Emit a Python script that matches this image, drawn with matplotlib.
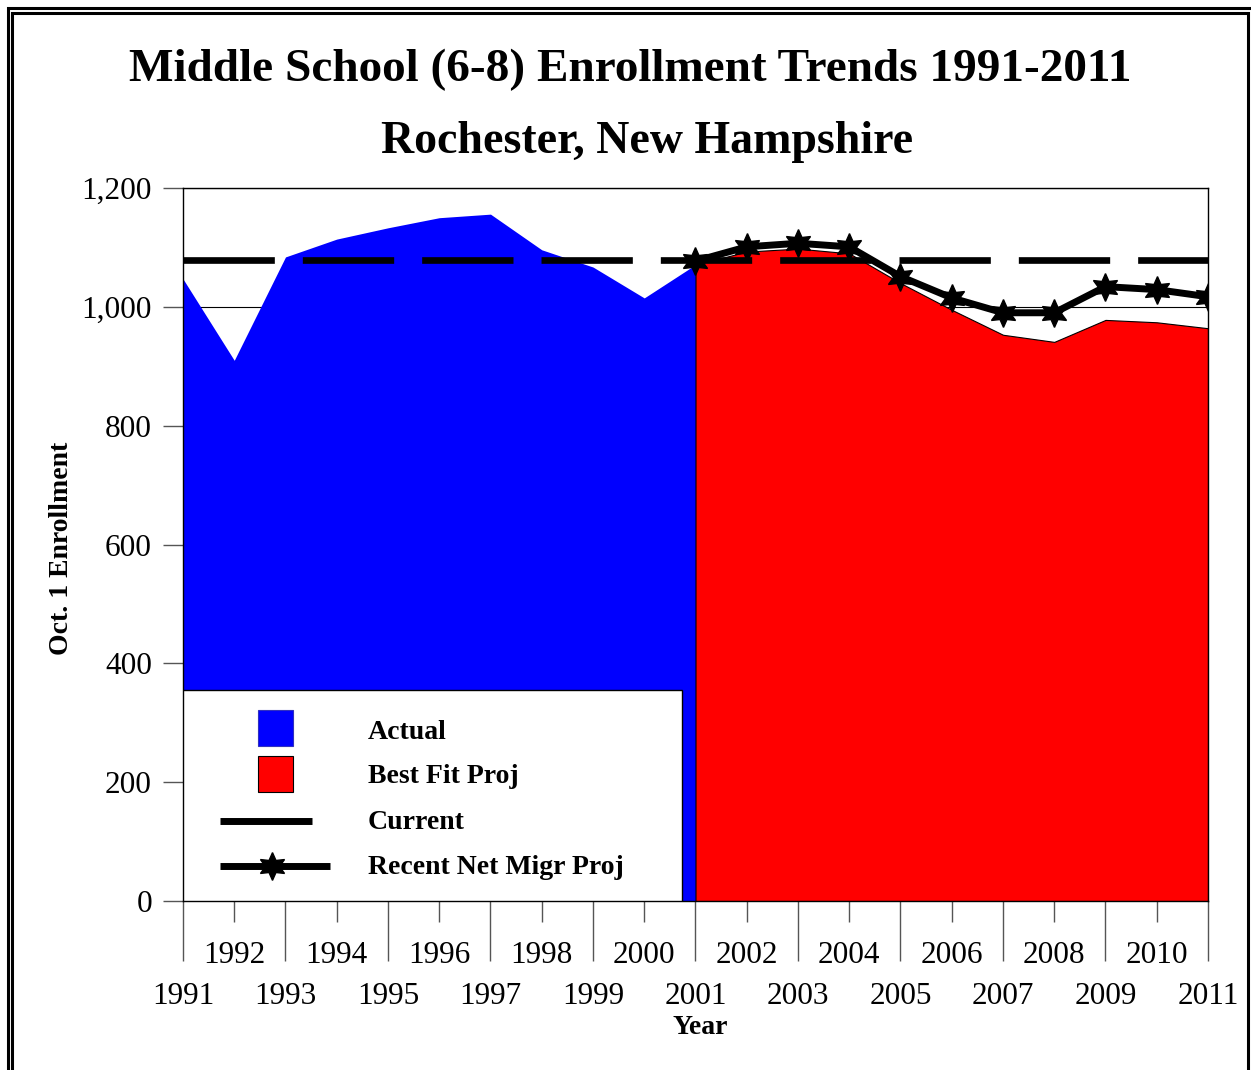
import numpy as np
import matplotlib
matplotlib.use('Agg')
import matplotlib.pyplot as plt
from matplotlib.patches import Rectangle
from matplotlib.lines import Line2D

# ==========================================
# 0. 数据
# ==========================================
years_actual = [1991, 1992, 1993, 1994, 1995, 1996, 1997, 1998, 1999, 2000, 2001]
actual = [1047, 910, 1084, 1114, 1133, 1150, 1156, 1096, 1067, 1015, 1071]

years_proj = [2001, 2002, 2003, 2004, 2005, 2006, 2007, 2008, 2009, 2010, 2011]
best_fit = [1071, 1093, 1098, 1090, 1040, 995, 953, 941, 978, 974, 964]
net_migr = [1077, 1101, 1107, 1101, 1051, 1015, 990, 990, 1034, 1029, 1017]

current = 1078

y_ticks = [0, 200, 400, 600, 800, 1000, 1200]
y_labels = ['0', '200', '400', '600', '800', '1,000', '1,200']
odd_years = list(range(1991, 2012, 2))
even_years = list(range(1992, 2011, 2))

legend_labels = ['Actual', 'Best Fit Proj', 'Current', 'Recent Net Migr Proj']

SERIF = 'Liberation Serif'
plt.rcParams['font.family'] = SERIF

# ==========================================
# 1. 画布
# ==========================================
fig = plt.figure(figsize=(12.51, 10.70), dpi=100)
ax = fig.add_axes([183 / 1251, 1 - 901 / 1070, 1025 / 1251, 713 / 1070])

# 横向网格线 (被填充遮住)
for yv in y_ticks:
    ax.axhline(yv, color='black', lw=0.8, zorder=0)

ax.fill_between(years_actual, actual, 0, color='#0000FF', lw=0, zorder=1)
ax.fill_between(years_proj, best_fit, 0, facecolor='#FF0000', edgecolor='black', lw=0.8, zorder=2)

ax.axhline(current, color='black', lw=4.8, dashes=(13.7, 4.2), solid_capstyle='butt',
           dash_capstyle='butt', zorder=3)
ax.plot(years_proj, net_migr, color='black', lw=5, marker=(6, 1, 0), markersize=20,
        markerfacecolor='black', markeredgecolor='black', zorder=4)

ax.set_xlim(1991, 2011)
ax.set_ylim(0, 1200)

for s in ax.spines.values():
    s.set_color('black')
    s.set_linewidth(1)

ax.set_yticks(y_ticks)
ax.set_yticklabels(y_labels)
ax.tick_params(axis='y', length=14.4, width=1, color='#555555', pad=8, labelsize=22.5)

ax.set_xticks(odd_years)
ax.set_xticklabels([str(y) for y in odd_years])
ax.set_xticks(even_years, minor=True)
ax.set_xticklabels([str(y) for y in even_years], minor=True)
ax.tick_params(axis='x', which='major', length=43.2, width=1, color='#555555', pad=15, labelsize=22.5)
ax.tick_params(axis='x', which='minor', length=15, width=1, color='#555555', pad=14, labelsize=22.5)

# ==========================================
# 2. 图例 (手动画, axes 坐标)
# ==========================================
tA = ax.transAxes
ax.add_patch(Rectangle((0, 0), 0.4868, 0.296, transform=tA, facecolor='white',
                       edgecolor='black', lw=1, zorder=5))
ax.add_patch(Rectangle((0.0732, 0.2174), 0.0341, 0.0505, transform=tA, facecolor='#0000FF',
                       edgecolor='#3030C0', lw=0.8, zorder=6))
ax.add_patch(Rectangle((0.0732, 0.1529), 0.0341, 0.0505, transform=tA, facecolor='#FF0000',
                       edgecolor='black', lw=0.8, zorder=6))
ax.add_line(Line2D([0.0361, 0.1259], [0.1122, 0.1122], transform=tA, color='black', lw=5,
                   solid_capstyle='butt', zorder=6))
ax.add_line(Line2D([0.0361, 0.1434], [0.0491, 0.0491], transform=tA, color='black', lw=5,
                   solid_capstyle='butt', zorder=6))
ax.add_line(Line2D([0.0868], [0.0491], transform=tA, color='black', marker=(6, 1, 0),
                   markersize=20, zorder=7))
for lab, yy in zip(legend_labels, [0.2370, 0.1740, 0.1095, 0.0464]):
    ax.text(0.1805, yy, lab, transform=tA, fontsize=20, fontweight='bold', va='center',
            ha='left', zorder=7)

# ==========================================
# 3. 标题、轴标签、外框
# ==========================================
fig.text(630 / 1251, 1 - 70 / 1070, 'Middle School (6-8) Enrollment Trends 1991-2011',
         fontsize=34, fontweight='bold', ha='center', va='center')
fig.text(647 / 1251, 1 - 142 / 1070, 'Rochester, New Hampshire',
         fontsize=33, fontweight='bold', ha='center', va='center')
fig.text(62 / 1251, 1 - 548 / 1070, 'Oct. 1 Enrollment', fontsize=20, fontweight='bold',
         rotation=90, ha='center', va='center')
fig.text(700 / 1251, 1 - 1027 / 1070, 'Year', fontsize=20, fontweight='bold',
         ha='center', va='center')

tF = fig.transFigure
fig.add_artist(Rectangle((7.5 / 1251, -0.02), 1.05, 1.02 - 7.5 / 1070, transform=tF,
                         fill=False, edgecolor='black', lw=2.2))
fig.add_artist(Rectangle((12.5 / 1251, -0.02), (1247.5 - 12.5) / 1251,
                         1.02 - 12.5 / 1070, transform=tF, fill=False, edgecolor='black', lw=2.2))

fig.savefig('out.png', dpi=100)
